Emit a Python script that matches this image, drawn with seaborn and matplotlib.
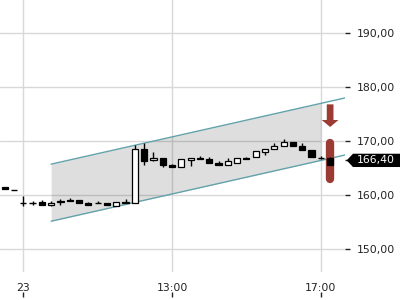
import numpy as np
import pandas as pd
import matplotlib
matplotlib.use("Agg")
import matplotlib.pyplot as plt
import seaborn as sns
from matplotlib.patches import Polygon, FancyArrow
from matplotlib.transforms import IdentityTransform
from matplotlib.ticker import FixedLocator, FuncFormatter

# ---- data (15-minute slots, slot 0 = 09:00 on the 23rd) ----
slots = list(range(-2, 34))
opens = [161.4, 160.9, 158.4, 158.5, 158.6, 158.1, 158.7, 159.1, 159.1, 158.5,
         158.4, 158.5, 158.0, 158.7, 158.5, 168.5, 166.4, 166.8, 165.5, 165.1,
         166.4, 166.8, 166.7, 166.0, 165.5, 166.0, 166.9, 167.0, 168.0, 168.5,
         169.1, 169.9, 169.1, 168.4, 166.9, 166.9]
highs = [161.4, 160.9, 159.8, 158.9, 159.0, 158.9, 159.2, 159.5, 159.1, 158.6,
         158.9, 158.5, 158.6, 159.2, 169.3, 169.7, 168.0, 166.8, 165.8, 166.7,
         166.8, 167.2, 167.1, 166.3, 166.9, 166.8, 167.0, 168.1, 168.5, 169.7,
         170.4, 169.9, 169.6, 168.4, 167.3, 167.1]
lows = [161.0, 160.9, 157.9, 158.2, 158.1, 158.0, 158.2, 158.8, 158.4, 158.2,
        158.4, 158.1, 158.0, 158.4, 158.5, 165.5, 166.3, 165.2, 165.1, 165.1,
        165.4, 166.6, 166.0, 165.5, 165.5, 166.0, 166.7, 167.0, 167.4, 168.5,
        169.1, 169.1, 168.3, 167.0, 166.6, 165.6]
closes = [161.0, 160.9, 158.4, 158.5, 158.2, 158.5, 158.8, 158.8, 158.4, 158.2,
          158.4, 158.1, 158.6, 158.4, 168.6, 166.3, 166.8, 165.5, 165.1, 166.7,
          166.8, 166.6, 166.0, 165.5, 166.2, 166.8, 166.7, 168.1, 168.5, 169.1,
          169.9, 169.1, 168.3, 167.0, 166.9, 165.6]

# trend channel
chan_line_x = [3, 35]
chan_upper_line = [165.7, 178.15]
chan_lower_line = [155.1, 167.55]
chan_fill_x = [3, 32]
chan_fill_upper = [165.7, 177.0]
chan_fill_lower = [155.1, 166.4]

# signal marker
signal_slot = 33
signal_bar = [162.9, 169.7]
signal_arrow = [176.8, 172.6]
last_price = 166.40

xtick_pos = [0, 16, 32]
xtick_labels = ["23", "13:00", "17:00"]
ytick_vals = [150, 160, 170, 180, 190]

RED = "#9b3b34"
TEAL = "#62a2ab"

sns.set_style("white")
plt.rcParams["font.family"] = ["DejaVu Sans"]

fig = plt.figure(figsize=(4, 3), dpi=100)
ax = fig.add_axes([0, 28 / 300, 345 / 400, 272 / 300])

# channel
ax.fill_between(chan_fill_x, chan_fill_lower, chan_fill_upper,
                color="black", alpha=0.13, lw=0, zorder=1)
df_u = pd.DataFrame({"x": chan_line_x, "y": chan_upper_line})
df_l = pd.DataFrame({"x": chan_line_x, "y": chan_lower_line})
sns.lineplot(data=df_u, x="x", y="y", ax=ax, color=TEAL, lw=1, zorder=2)
sns.lineplot(data=df_l, x="x", y="y", ax=ax, color=TEAL, lw=1, zorder=2)

# signal marker
ax.plot([signal_slot, signal_slot], signal_bar, color=RED, lw=6,
        solid_capstyle="round", zorder=2.5)
ax.add_patch(FancyArrow(signal_slot, signal_arrow[0], 0,
                        signal_arrow[1] - signal_arrow[0],
                        width=0.72, head_width=1.8, head_length=1.3,
                        length_includes_head=True, color=RED, lw=0, zorder=2.5))

# candles
w = 0.66
for s, o, h, l, c in zip(slots, opens, highs, lows, closes):
    ax.vlines(s, l, h, color="black", lw=1, zorder=3)
    if abs(c - o) < 0.05:
        ax.hlines(o, s - w / 2, s + w / 2, color="black", lw=1, zorder=4)
    else:
        fc = "white" if c > o else "black"
        ax.bar(s, abs(c - o), bottom=min(o, c), width=w, color=fc,
               edgecolor="black", lw=0.9, zorder=4)

ax.set_xlim(-2.5, 34.6)
ax.set_ylim(145.67, 196.18)

ax.grid(True, color="#d8d8d8", lw=1)
ax.set_axisbelow(True)
for sp in ax.spines.values():
    sp.set_visible(False)
ax.set_xlabel("")
ax.set_ylabel("")

ax.set_xticks(xtick_pos)
ax.set_xticklabels(xtick_labels)
ax.tick_params(axis="x", length=0, pad=7.9, labelsize=7.8, colors="#222222")

ax.yaxis.tick_right()
ax.set_yticks(ytick_vals)
ax.yaxis.set_major_formatter(FuncFormatter(lambda v, p: f"{v:.2f}".replace(".", ",")))
ax.yaxis.set_minor_locator(FixedLocator([last_price]))
ax.tick_params(axis="y", which="both", length=3.6, width=1, pad=5,
               labelsize=7.8, colors="#222222")
ax.tick_params(axis="y", which="minor", labelright=False)

sec = ax.secondary_xaxis(-0.0735)
sec.set_xticks(xtick_pos)
sec.tick_params(length=3.6, width=1, labelbottom=False, colors="#222222")
for sp in sec.spines.values():
    sp.set_visible(False)

# last price label
py = ax.transData.transform((0, last_price))[1]
hh = 6.65
poly = Polygon([(346.7, py), (353, py + hh), (401, py + hh),
                (401, py - hh), (353, py - hh)], closed=True,
               facecolor="black", edgecolor="none", transform=IdentityTransform())
fig.add_artist(poly)
fig.text(356.5, py, f"{last_price:.2f}".replace(".", ","), transform=IdentityTransform(),
         color="white", fontsize=7.8, va="center", ha="left")

fig.savefig("out.png", dpi=100)
